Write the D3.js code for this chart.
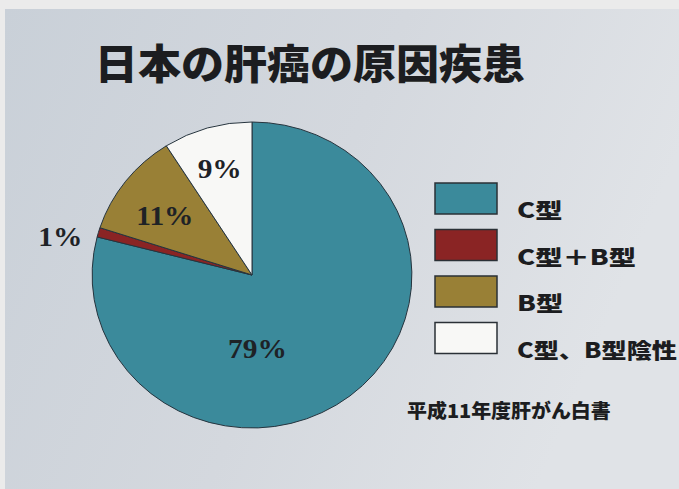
<!DOCTYPE html>
<html>
<head>
<meta charset="utf-8">
<script src="https://cdn.jsdelivr.net/npm/d3@7"></script>
<style>
  html, body { margin: 0; padding: 0; background: #ececec; }
  svg { display: block; }
</style>
</head>
<body>
<svg id="chart" width="679" height="489"></svg>
<script>
// Causes of liver cancer in Japan (share of cases, %)
const categories = ["C型", "C型＋B型", "B型", "C型、B型陰性"];
const values = [79, 1, 11, 9];
const colors = ["#3b8a9b", "#8a2424", "#998036", "#f8f8f6"];
const titleText = "日本の肝癌の原因疾患";
const sourceText = "平成11年度肝がん白書";

const W = 679, H = 489;
const sx = 1.05;  // slide is shown slightly wider than tall
const svg = d3.select("#chart");

// slide background
const defs = svg.append("defs");
const grad = defs.append("linearGradient").attr("id", "bg")
  .attr("x1", 0).attr("y1", 0).attr("x2", 1).attr("y2", 0.3);
grad.append("stop").attr("offset", 0).attr("stop-color", "#c9d0d8");
grad.append("stop").attr("offset", 0.55).attr("stop-color", "#d4d8de");
grad.append("stop").attr("offset", 1).attr("stop-color", "#e0e3e7");
svg.append("rect").attr("width", W).attr("height", H).attr("fill", "#ebebeb");
svg.append("rect").attr("x", 5).attr("y", 9).attr("width", W - 5).attr("height", H - 9)
  .attr("fill", "url(#bg)");

const cjk = "'Noto Sans CJK JP', sans-serif";
function stretchedText(parent, x, y, str, size, weight, anchor, stretch) {
  return parent.append("text")
    .attr("transform", `translate(${x},${y}) scale(${stretch || sx},1)`)
    .attr("text-anchor", anchor || "start")
    .attr("font-family", cjk)
    .attr("font-weight", weight)
    .attr("font-size", size)
    .attr("fill", "#1c1d20")
    .text(str);
}

// title
stretchedText(svg, 310, 79, titleText, 41, 900, "middle");

// pie
const cx = 252, cy = 275, r = 153;
const pie = d3.pie().sort(null).value(d => d.v);
const arcs = pie(categories.map((c, i) => ({ c, v: values[i], col: colors[i] })));
const arc = d3.arc().innerRadius(0).outerRadius(r);

const g = svg.append("g").attr("transform", `translate(${cx},${cy}) scale(${sx - 0.005},1)`);
g.selectAll("path.slice")
  .data(arcs)
  .join("path")
  .attr("class", "slice")
  .attr("d", arc)
  .attr("fill", d => d.data.col)
  .attr("stroke", "#26343e")
  .attr("stroke-width", 1)
  .attr("vector-effect", "non-scaling-stroke");

// value labels: placed by angle (deg, clockwise from top) and radius fraction
const labelPlace = [
  { a: 176, f: 0.48 },   // 79%
  { a: 282, f: 1.22 },   // 1%
  { a: 306, f: 0.67 },   // 11%
  { a: 344, f: 0.73 }    // 9%
];
svg.append("g").selectAll("text")
  .data(arcs)
  .join("text")
  .attr("transform", (d, i) => {
    const p = labelPlace[i], t = p.a * Math.PI / 180;
    const x = cx + sx * r * p.f * Math.sin(t);
    const y = cy - r * p.f * Math.cos(t) + 10;
    return `translate(${x},${y}) scale(${sx},1)`;
  })
  .attr("text-anchor", "middle")
  .attr("font-family", "'Liberation Serif', 'Times New Roman', serif")
  .attr("font-weight", 700)
  .attr("font-size", 28)
  .attr("fill", "#1e2226")
  .text(d => d.data.v + "%");

// legend
const legendX = 435, legendY = 183, labelX = 82;
const legend = svg.append("g").attr("transform", `translate(${legendX},${legendY})`);
const item = legend.selectAll("g")
  .data(categories.map((c, i) => ({ c, col: colors[i] })))
  .join("g")
  .attr("transform", (d, i) => `translate(0,${i * 46.5})`);
item.append("rect")
  .attr("width", 62).attr("height", 31)
  .attr("fill", d => d.col)
  .attr("stroke", "#2a3036")
  .attr("stroke-width", 1.5);
item.each(function (d) {
  const t = stretchedText(d3.select(this), labelX, 35, d.c, 21, 900, "start", 1.3);
  // keep the widest label inside the slide
  const room = W - 2 - (legendX + labelX);
  const len = t.node().getComputedTextLength();
  const k = Math.min(1.3, room / len);
  t.attr("transform", `translate(${labelX},35) scale(${k},1)`);
});

// source note
stretchedText(svg, 407, 418, sourceText, 19, 900);
</script>
</body>
</html>
